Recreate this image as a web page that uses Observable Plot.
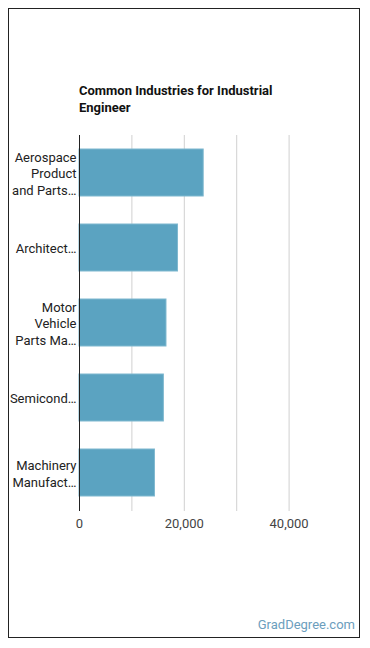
<!DOCTYPE html>
<html>
<head>
<meta charset="utf-8">
<script src="https://cdn.jsdelivr.net/npm/d3@7"></script>
<script src="https://cdn.jsdelivr.net/npm/@observablehq/plot@0.6"></script>
<style>
  html, body { margin: 0; padding: 0; background: #fff; }
  body { width: 370px; height: 648px; position: relative; overflow: hidden; font-family: Roboto, sans-serif; }
  #box { position: absolute; left: 8px; top: 8px; width: 350px; height: 628px; border: 1px solid #222; }
  #title { position: absolute; left: 79px; top: 82px; width: 230px; font: bold 13px/17px Roboto, sans-serif; color: #111; }
  #chart { position: absolute; left: 0; top: 0; }
  #credit { position: absolute; right: 15px; top: 617px; font: 13px Roboto, sans-serif; color: #6c9ebd; }
</style>
</head>
<body>
<div id="box"></div>
<div id="title">Common Industries for Industrial Engineer</div>
<div id="chart"></div>
<div id="credit">GradDegree.com</div>
<script>
const industries = [
  "Aerospace Product and Parts Manufacturing",
  "Architectural, Engineering, and Related Services",
  "Motor Vehicle Parts Manufacturing",
  "Semiconductor and Other Electronic Component Manufacturing",
  "Machinery Manufacturing"
];
const displayLabels = [
  "Aerospace\nProduct\nand Parts…",
  "Architect…",
  "Motor\nVehicle\nParts Ma…",
  "Semicond…",
  "Machinery\nManufact…"
];
const employment = [23700, 18800, 16600, 16100, 14400];
const gridTicks = [0, 10000, 20000, 30000, 40000];
const labelTicks = [0, 20000, 40000];

const data = industries.map((name, i) => ({name, label: displayLabels[i], value: employment[i]}));

const chart = Plot.plot({
  width: 370,
  height: 560,
  marginLeft: 79,
  marginRight: 29,
  marginTop: 135,
  marginBottom: 49,
  style: {fontFamily: "Roboto, sans-serif", fontSize: "13px", color: "#333", background: "transparent"},
  x: {domain: [0, 50000], axis: null},
  y: {domain: industries, axis: null, paddingInner: 0.37, paddingOuter: 0.185},
  marks: [
    Plot.ruleX(gridTicks.slice(1), {stroke: "#d0d0d0", strokeWidth: 1, strokeOpacity: 1}),
    Plot.barX(data, {x: "value", y: "name", fill: "#5ba3c1", stroke: "#7fb8cf", strokeWidth: 1}),
    Plot.ruleX([0], {stroke: "#222", strokeWidth: 1}),
    Plot.text(data, {x: 0, y: "name", text: "label", textAnchor: "end", dx: -3, lineHeight: 1.28, fill: "#222", fontSize: 13}),
    Plot.text(labelTicks, {x: d => d, frameAnchor: "bottom", dy: 16, text: d => d3.format(",")(d), fill: "#444", fontSize: 13})
  ]
});
document.getElementById("chart").appendChild(chart);
</script>
</body>
</html>
